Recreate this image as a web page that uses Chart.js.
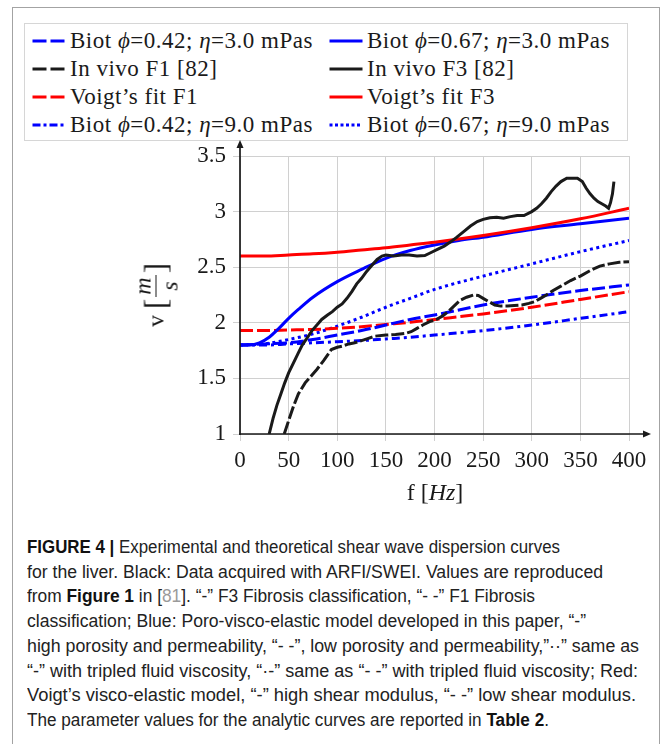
<!DOCTYPE html>
<html><head><meta charset="utf-8">
<script src="https://cdn.jsdelivr.net/npm/chart.js@4/dist/chart.umd.min.js"></script>
<style>
html,body{margin:0;padding:0;background:#fff;width:663px;height:744px;overflow:hidden;}
#frame{position:absolute;left:12px;top:7px;width:648px;height:800px;border:1.5px solid #a3a3a3;border-bottom:none;box-sizing:border-box;}
#legend{position:absolute;left:24px;top:23px;width:604px;height:118px;border:1px solid #d6d6d6;box-sizing:border-box;font-family:"Liberation Serif",serif;font-size:23px;color:#1a1a1a;}
.item{position:absolute;height:28px;display:flex;align-items:center;white-space:nowrap;letter-spacing:0.5px;}
.item svg{margin-right:4px;flex:none;}
#wrap{position:absolute;left:0;top:0;width:663px;height:520px;}
#c{display:block;}
#ytitle{position:absolute;left:156px;top:295px;transform:translate(-50%,-50%) rotate(-90deg);font-family:"Liberation Serif",serif;font-size:24px;color:#1a1a1a;white-space:nowrap;display:flex;align-items:center;}
.br{font-size:31px;line-height:1;}
.frac{display:inline-flex;flex-direction:column;align-items:center;font-style:italic;line-height:1;margin:0 2px;}
.frac .num{border-bottom:1.3px solid #1a1a1a;padding:0 2px 1px 2px;}
.frac .den{padding-top:1px;}
#xtitle{position:absolute;left:435px;top:492px;transform:translate(-50%,-50%);font-family:"Liberation Serif",serif;font-size:24px;color:#1a1a1a;white-space:nowrap;}
#caption{position:absolute;left:27px;top:535px;font-family:"Liberation Sans Narrow","Liberation Sans",sans-serif;font-size:17.5px;line-height:24.7px;color:#222;white-space:nowrap;}
#caption div{display:block;transform-origin:0 0;}
#caption div span.ln{display:inline-block;transform-origin:0 0;}
#caption b{font-weight:bold;color:#111;}
.ref{color:#9a9a9a;}
</style>
</head><body>
<div id="frame"></div>
<div id="legend"></div>
<div id="wrap"><canvas id="c" width="663" height="520"></canvas></div>
<div id="ytitle"><span>v&nbsp;</span><span class="br">[</span><span class="frac"><span class="num">m</span><span class="den">s</span></span><span class="br">]</span></div>
<div id="xtitle">f [<i>Hz</i>]</div>
<div id="caption">
<div><span class="ln"><b>FIGURE 4 |</b> Experimental and theoretical shear wave dispersion curves</span></div>
<div><span class="ln">for the liver. Black: Data acquired with ARFI/SWEI. Values are reproduced</span></div>
<div><span class="ln">from <b>Figure 1</b> in [<span class="ref">81</span>]. “-” F3 Fibrosis classification, “- -” F1 Fibrosis</span></div>
<div><span class="ln">classification; Blue: Poro-visco-elastic model developed in this paper, “-”</span></div>
<div><span class="ln">high porosity and permeability, “- -”, low porosity and permeability,”··” same as</span></div>
<div><span class="ln">“-” with tripled fluid viscosity, “·-” same as “- -” with tripled fluid viscosity; Red:</span></div>
<div><span class="ln">Voigt’s visco-elastic model, “-” high shear modulus, “- -” low shear modulus.</span></div>
<div><span class="ln">The parameter values for the analytic curves are reported in <b>Table 2</b>.</span></div>
</div>
<script>
// ---- data ----
const xTicks = [0,50,100,150,200,250,300,350,400];
const yTicks = [1,1.5,2,2.5,3,3.5];

const fModel = [0,25,50,75,100,125,150,175,200,250,300,350,400];
const biot042eta3 = [1.80,1.81,1.82,1.85,1.89,1.93,1.98,2.03,2.07,2.16,2.23,2.29,2.34];
const biot042eta9 = [1.80,1.80,1.81,1.82,1.83,1.84,1.855,1.87,1.89,1.93,1.98,2.04,2.10];
const biot067eta9 = [1.80,1.81,1.85,1.90,1.97,2.05,2.14,2.22,2.30,2.42,2.53,2.64,2.74];
const voigtF1 = [1.93,1.93,1.935,1.94,1.95,1.965,1.985,2.005,2.03,2.08,2.14,2.21,2.28];
const voigtF3 = [2.60,2.60,2.61,2.62,2.635,2.655,2.675,2.70,2.725,2.785,2.855,2.935,3.03];

const fBiot067 = [0,10,20,30,40,50,60,75,100,125,150,175,200,225,250,300,350,400];
const biot067eta3 = [1.80,1.80,1.82,1.87,1.95,2.04,2.12,2.23,2.37,2.48,2.58,2.65,2.70,2.74,2.77,2.84,2.89,2.94];

const fF3 = [30,34,38,42,46,50,55,60,64,68,74,80,84,90,95,100,105,110,115,120,125,130,135,141,146,150,158,166,174,182,190,196,203,210,217,223,230,237,244,250,257,264,271,278,285,292,300,305,310,315,320,325,330,336,342,347,352,356,360,364,368,372,376,379,381,383,384.5];
const inVivoF3 = [1.00,1.14,1.26,1.36,1.46,1.55,1.64,1.73,1.80,1.85,1.93,1.99,2.03,2.07,2.10,2.14,2.17,2.22,2.28,2.35,2.40,2.46,2.51,2.57,2.60,2.61,2.60,2.61,2.61,2.60,2.605,2.63,2.66,2.69,2.73,2.77,2.82,2.87,2.91,2.93,2.945,2.95,2.94,2.955,2.965,2.965,3.00,3.03,3.07,3.12,3.18,3.23,3.27,3.30,3.30,3.30,3.27,3.21,3.16,3.12,3.09,3.07,3.05,3.03,3.08,3.16,3.27];

const fF1 = [45.5,50,55,60,67,73,79,86,94,100,105,112,118,125,132,139,150,160,170,176,182,188,195,202,208,214,220,226,233,240,245,250,256,262,268,275,282,290,297,303,309,315,322,330,340,350,360,370,380,390,400];
const inVivoF1 = [1.00,1.12,1.25,1.36,1.46,1.52,1.58,1.66,1.76,1.78,1.79,1.81,1.82,1.84,1.86,1.88,1.89,1.895,1.905,1.92,1.95,1.98,2.01,2.03,2.06,2.10,2.15,2.20,2.23,2.25,2.245,2.22,2.19,2.16,2.15,2.15,2.155,2.16,2.175,2.19,2.22,2.25,2.29,2.33,2.38,2.42,2.47,2.51,2.53,2.545,2.55];

const labels = [
  "Biot <i>ϕ</i>=0.42; <i>η</i>=3.0 mPas","Biot <i>ϕ</i>=0.67; <i>η</i>=3.0 mPas",
  "In vivo F1 [82]","In vivo F3 [82]",
  "Voigt’s fit F1","Voigt’s fit F3",
  "Biot <i>ϕ</i>=0.42; <i>η</i>=9.0 mPas","Biot <i>ϕ</i>=0.67; <i>η</i>=9.0 mPas"
];

const BLUE='#0000ff', RED='#ff0000', BLACK='#1a1a1a';
function pts(xs, ys){ return xs.map((x,i)=>({x:x,y:ys[i]})); }

const series = [
  {label:labels[0], x:fModel, y:biot042eta3, color:BLUE, dash:[13,4], legendDash:'14 4', smooth:true, order:5},
  {label:labels[1], x:fBiot067, y:biot067eta3, color:BLUE, dash:[], legendDash:'', smooth:true, order:4},
  {label:labels[2], x:fF1, y:inVivoF1, color:BLACK, dash:[13,3], legendDash:'14 4', smooth:false, order:1},
  {label:labels[3], x:fF3, y:inVivoF3, color:BLACK, dash:[], legendDash:'', smooth:false, order:0},
  {label:labels[4], x:fModel, y:voigtF1, color:RED, dash:[13,4], legendDash:'14 4', smooth:true, order:6},
  {label:labels[5], x:fModel, y:voigtF3, color:RED, dash:[], legendDash:'', smooth:true, order:3},
  {label:labels[6], x:fModel, y:biot042eta9, color:BLUE, dash:[8,4,3,4], legendDash:'8 3 3 3', smooth:true, order:7},
  {label:labels[7], x:fModel, y:biot067eta9, color:BLUE, dash:[3,3.5], legendDash:'3 2.5', smooth:true, order:8}
];

// ---- legend (HTML) ----
const lg = document.getElementById('legend');
series.forEach((s,i)=>{
  const col = i%2, row = Math.floor(i/2);
  const d = document.createElement('div');
  d.className='item';
  d.style.left = (col===0?7:304)+'px';
  d.style.top = (2.7+row*28.2)+'px';
  const svg = `<svg width="34" height="8"><line x1="0.5" y1="4" x2="33.5" y2="4" stroke="${s.color}" stroke-width="3.2" ${s.legendDash?`stroke-dasharray="${s.legendDash}"`:''}/></svg>`;
  d.innerHTML = svg + '<span>'+s.label+'</span>';
  lg.appendChild(d);
});

// ---- axis arrows ----
const axisArrows = {
  id:'axisArrows',
  afterDatasetsDraw(chart){
    const {ctx, chartArea:{left,bottom,top,right}} = chart;
    ctx.save();
    ctx.strokeStyle=BLACK; ctx.fillStyle=BLACK; ctx.lineWidth=1.7;
    const yTip = top-16, xTip = right+22;
    ctx.beginPath();
    ctx.moveTo(left, bottom+1); ctx.lineTo(left, yTip+6);
    ctx.moveTo(left-1, bottom); ctx.lineTo(xTip-6, bottom);
    ctx.stroke();
    ctx.beginPath();
    ctx.moveTo(left, yTip); ctx.lineTo(left-3.5, yTip+8); ctx.lineTo(left+3.5, yTip+8); ctx.closePath(); ctx.fill();
    ctx.beginPath();
    ctx.moveTo(xTip, bottom); ctx.lineTo(xTip-8, bottom-3.5); ctx.lineTo(xTip-8, bottom+3.5); ctx.closePath(); ctx.fill();
    ctx.restore();
  }
};

const tickFont = {family:'"Liberation Serif", serif', size:23};
const fmt = v => String(Math.round(v*100)/100);
new Chart(document.getElementById('c'), {
  type:'line',
  data:{datasets: series.map(s=>({
    label:s.label.replace(/<\/?i>/g,''), data:pts(s.x,s.y), borderColor:s.color, backgroundColor:s.color,
    borderWidth:3, borderDash:s.dash, pointRadius:0, fill:false, order:s.order,
    tension: s.smooth?0.4:0, cubicInterpolationMode: s.smooth?'monotone':'default'
  }))},
  options:{
    responsive:false, animation:false, devicePixelRatio:1,
    layout:{padding:{left:180, top:156, right:34, bottom:36}},
    plugins:{legend:{display:false}, tooltip:{enabled:false}},
    scales:{
      x:{type:'linear', min:0, max:400,
        afterBuildTicks(sc){ sc.ticks = xTicks.map(v=>({value:v})); },
        afterFit(sc){ sc.height = 50; },
        grid:{color:'#d0d0d0', lineWidth:1, tickLength:7, drawTicks:true},
        border:{display:false},
        ticks:{font:tickFont, color:'#1a1a1a', padding:6, maxRotation:0, autoSkip:false, callback:fmt}
      },
      y:{type:'linear', min:1, max:3.5,
        afterBuildTicks(sc){ sc.ticks = yTicks.map(v=>({value:v})); },
        afterFit(sc){ sc.width = 60; },
        grid:{color:'#d0d0d0', lineWidth:1, tickLength:7, drawTicks:true},
        border:{display:false},
        ticks:{font:tickFont, color:'#1a1a1a', padding:7, autoSkip:false, callback:fmt}
      }
    }
  },
  plugins:[axisArrows]
});
</script>
<script>
// caption: fit each line to the measured line length in the reference
(function(){
  const lineWidths = [533,576,508,559,612,611,609,522];
  document.querySelectorAll('#caption span.ln').forEach((el,i)=>{
    const w = el.getBoundingClientRect().width;
    el.style.transform = 'scaleX('+(lineWidths[i]/w)+')';
  });
})();
</script>
</body></html>
